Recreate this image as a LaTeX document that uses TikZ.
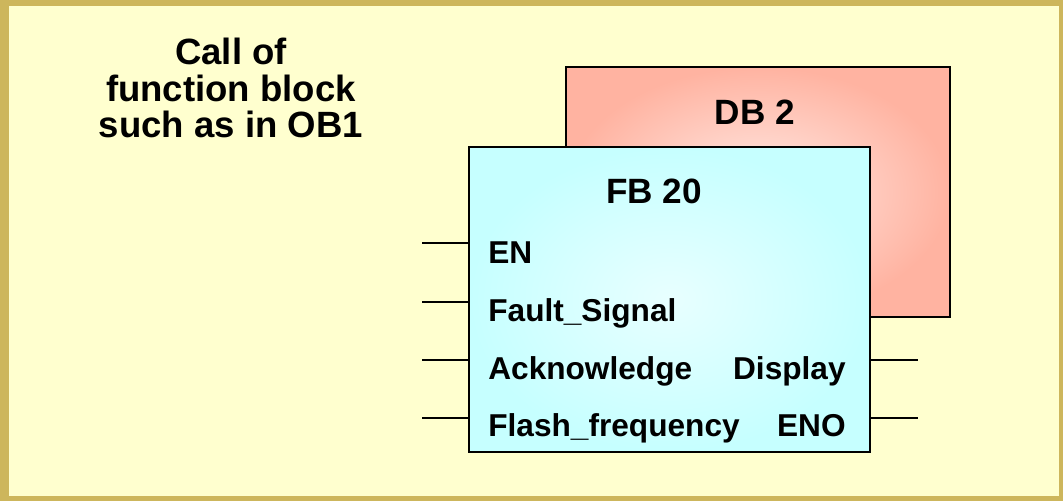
\documentclass[tikz,border=0pt]{standalone}
\usepackage{fontspec}
\setmainfont{Liberation Sans}
\definecolor{frameGold}{HTML}{CDB65C}
\definecolor{frameCream}{HTML}{FFFFCF}
\definecolor{dbSalmon}{HTML}{FFB3A1}
\definecolor{dbLight}{HTML}{FFEAE5}
\definecolor{fbCyan}{HTML}{C6FFFF}
\definecolor{fbLight}{HTML}{E8FFFF}
\usetikzlibrary{positioning,calc}
\tikzset{
  dbbox/.style={rectangle,draw=black,line width=1.2pt,inner color=dbLight,outer color=dbSalmon,minimum width=7.68cm,minimum height=5.0cm},
  fbbox/.style={rectangle,draw=black,line width=1.2pt,inner color=fbLight,outer color=fbCyan,minimum width=8.02cm,minimum height=6.1cm},
  pinline/.style={draw=black,line width=1.2pt},
  pinlabel/.style={font=\bfseries\fontsize{18}{20}\selectfont,inner sep=0pt},
  headlabel/.style={font=\bfseries\fontsize{20}{20.6}\selectfont,inner sep=0pt,align=center},
  titlelabel/.style={font=\bfseries\fontsize{20.8}{20.6}\selectfont,inner sep=0pt,align=center},
}

\begin{document}
\begin{tikzpicture}[x=0.02cm,y=-0.02cm]
  \useasboundingbox (0,0) rectangle (1063,501);
  % frame
  \fill[frameGold] (0,0) rectangle (1063,501);
  \fill[frameCream] (9,6) rectangle (1059,496);

  \node[titlelabel, anchor=north] (title) at (231,38) {Call of\\function block\\such as in OB1};

  % instance data block behind the FB
  \node[dbbox] (db) at (758,192) {};
  \node[headlabel, anchor=base] (dbname) at (755,124.3) {DB 2};

  % function block
  \node[fbbox] (fb) at (669.5,299.5) {};
  \node[headlabel, anchor=base] (fbname) at (654,203.3) {FB 20};

  % inputs
  \node[pinlabel, anchor=base west] (lEN)  at (488,263)   {EN};
  \node[pinlabel, anchor=base west] (lFlt) at (488,321.7) {Fault\_Signal};
  \node[pinlabel, anchor=base west] (lAck) at (488,379.3) {Acknowledge};
  \node[pinlabel, anchor=base west] (lFrq) at (488,436.7) {Flash\_frequency};
  % outputs
  \node[pinlabel, anchor=base east] (lDsp) at (846,379.3) {Display};
  \node[pinlabel, anchor=base east] (lENO) at (846,436.7) {ENO};

  \coordinate (inEN)  at (422,243);
  \coordinate (inFlt) at (422,302);
  \coordinate (inAck) at (422,360);
  \coordinate (inFrq) at (422,418);
  \coordinate (outDsp) at (918,360);
  \coordinate (outENO) at (918,418);

  \foreach \p in {inEN,inFlt,inAck,inFrq} {%
    \draw[pinline] (\p) -- (\p -| fb.west);
  }
  \foreach \p in {outDsp,outENO} {%
    \draw[pinline] (\p -| fb.east) -- (\p);
  }
\end{tikzpicture}
\end{document}
